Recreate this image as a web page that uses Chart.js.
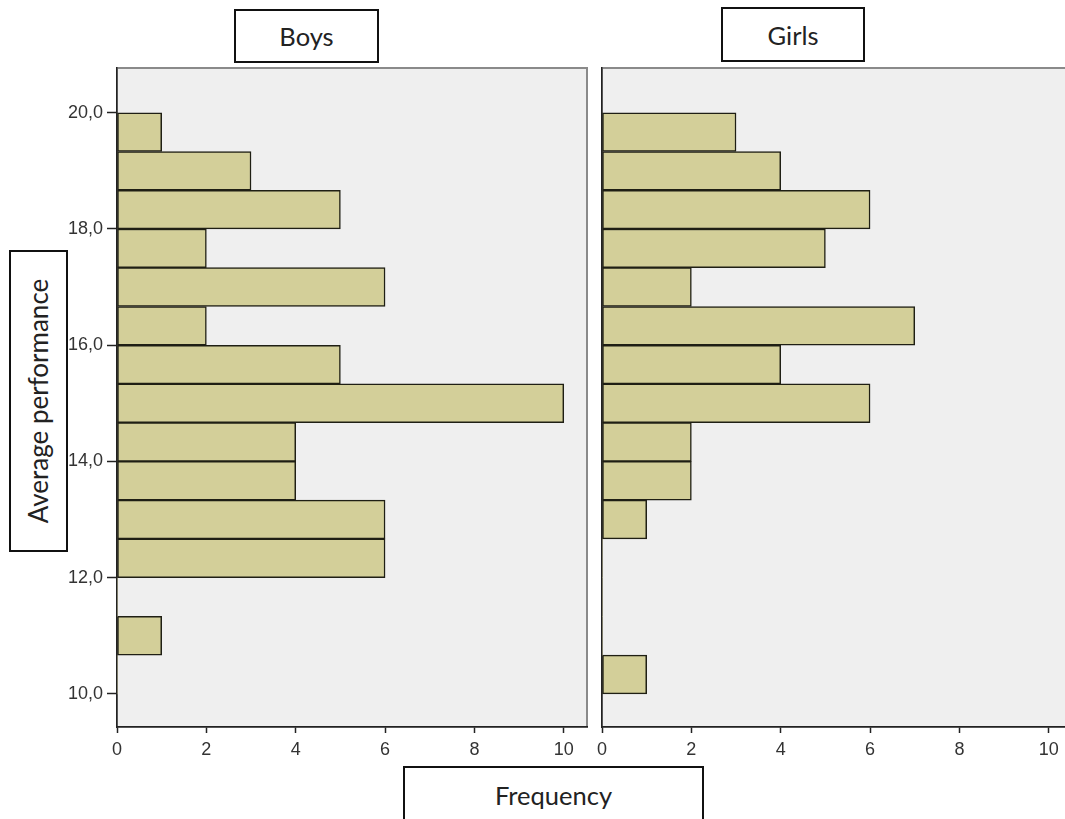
<!DOCTYPE html>
<html>
<head>
<meta charset="utf-8">
<script src="https://cdn.jsdelivr.net/npm/chart.js@4.4.0/dist/chart.umd.min.js"></script>
<style>
  html, body { margin: 0; padding: 0; background: #ffffff; }
  body { width: 1065px; height: 819px; overflow: hidden; position: relative; }
  canvas { position: absolute; top: 0; }
  .box {
    position: absolute; box-sizing: border-box; border: 2px solid #111; background: #fff;
    font-family: Lato, "Open Sans", sans-serif; font-size: 25.5px; color: #222;
    display: flex; align-items: center; justify-content: center;
  }
  .vtext { transform: rotate(-90deg); white-space: nowrap; font-size: 26px; }
</style>
</head>
<body>
<canvas id="boys" width="590" height="770" style="left:0px"></canvas>
<canvas id="girls" width="482" height="770" style="left:590px"></canvas>
<div class="box" style="left:234px; top:9px; width:145px; height:54px;">Boys</div>
<div class="box" style="left:721px; top:7px; width:144px; height:55px;">Girls</div>
<div class="box" style="left:9px; top:250px; width:59px; height:302px;"><span class="vtext">Average performance</span></div>
<div class="box" style="left:403px; top:766px; width:301px; height:58px;">Frequency</div>
<script>
// Histogram bins (lower edges, bin width 2/3), frequencies
const binStart = [10.0, 10.667, 11.333, 12.0, 12.667, 13.333, 14.0, 14.667, 15.333, 16.0, 16.667, 17.333, 18.0, 18.667, 19.333];
const binWidth = 0.667;
const boysFreq  = [0, 1, 0, 6, 6, 4, 4, 10, 5, 2, 6, 2, 5, 3, 1];
const girlsFreq = [1, 0, 0, 0, 1, 2, 2, 6, 4, 7, 2, 5, 6, 4, 3];
const yTicks = [10, 12, 14, 16, 18, 20];
const yTickLabels = ['10,0', '12,0', '14,0', '16,0', '18,0', '20,0'];
const xTicks = [0, 2, 4, 6, 8, 10];
const xTickLabels = ['0', '2', '4', '6', '8', '10'];
const yMin = 9.43, yMax = 20.77;
const xMax = 10.52;

const barFill = '#d3cf99';
const barEdge = '#1f1f14';
const axisColor = '#222222';
const tickFont = { family: '"Liberation Sans", Arial, sans-serif', size: 18 };

const framePlugin = {
  id: 'panelFrame',
  beforeDraw(chart) {
    const { ctx, chartArea: a } = chart;
    ctx.save();
    ctx.fillStyle = '#efefef';
    ctx.fillRect(a.left, a.top, a.right - a.left, a.bottom - a.top);
    ctx.strokeStyle = '#8a8a8a';
    ctx.lineWidth = 2;
    ctx.strokeRect(a.left, a.top, a.right - a.left, a.bottom - a.top);
    ctx.restore();
  }
};

function makeChart(id, freq, showYLabels, yWidth) {
  const data = binStart.map((s, i) => ({ y: s + binWidth / 2, x: freq[i] }));
  return new Chart(document.getElementById(id), {
    type: 'bar',
    data: {
      datasets: [{
        data: data,
        backgroundColor: barFill,
        borderColor: barEdge,
        borderWidth: ctx => (ctx.raw && ctx.raw.x > 0) ? 1.5 : 0,
        borderSkipped: false,
        categoryPercentage: 1.0,
        barPercentage: 1.0
      }]
    },
    options: {
      indexAxis: 'y',
      responsive: false,
      animation: false,
      events: [],
      layout: { padding: { top: 68, right: id === 'boys' ? 3 : 0, left: 0, bottom: 0 } },
      plugins: { legend: { display: false }, tooltip: { enabled: false } },
      scales: {
        y: {
          type: 'linear',
          offset: false,
          min: yMin, max: yMax,
          afterBuildTicks: s => { s.ticks = yTicks.map(v => ({ value: v })); },
          afterFit: s => { s.width = yWidth; },
          ticks: {
            display: showYLabels,
            autoSkip: false,
            font: tickFont,
            color: '#333',
            padding: 4,
            callback: (v, i) => yTickLabels[i]
          },
          grid: { offset: false, drawOnChartArea: false, drawTicks: showYLabels, tickLength: 10, tickWidth: 1.5, tickColor: axisColor },
          border: { display: true, color: axisColor, width: 1.5 }
        },
        x: {
          type: 'linear',
          offset: false,
          min: 0, max: xMax,
          afterBuildTicks: s => { s.ticks = xTicks.map(v => ({ value: v })); },
          afterFit: s => { s.height = 43; },
          ticks: {
            autoSkip: false,
            maxRotation: 0,
            font: tickFont,
            color: '#333',
            padding: 6,
            callback: (v, i) => xTickLabels[i]
          },
          grid: { offset: false, drawOnChartArea: false, drawTicks: true, tickLength: 6, tickWidth: 1.5, tickColor: axisColor },
          border: { display: true, color: axisColor, width: 1.5 }
        }
      }
    },
    plugins: [framePlugin]
  });
}

makeChart('boys', boysFreq, true, 117);
makeChart('girls', girlsFreq, false, 12);
</script>
</body>
</html>
